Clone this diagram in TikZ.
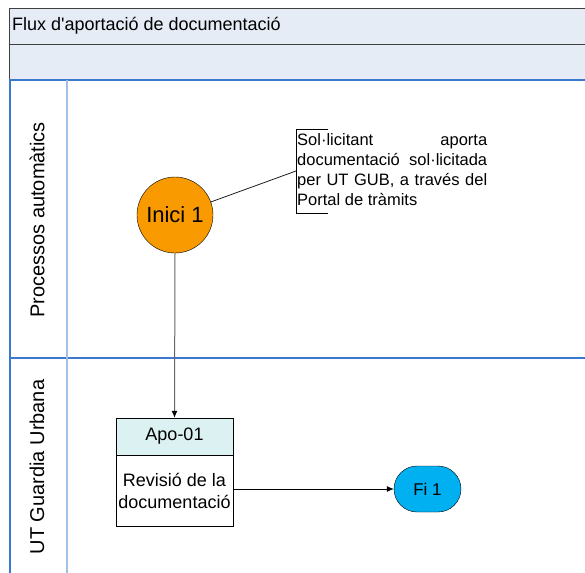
\documentclass[tikz,border=0pt]{standalone}
\usepackage{fontspec}
\setmainfont{Liberation Sans}
\usetikzlibrary{arrows.meta,shapes.misc}
\definecolor{hdrfill}{HTML}{E6ECF6}
\definecolor{laneblue}{HTML}{3C78D0}
\definecolor{lightblue}{HTML}{A0C0EA}
\definecolor{startor}{HTML}{F99B00}
\definecolor{endblue}{HTML}{00B0F0}
\definecolor{taskhead}{HTML}{DCF2F2}
\definecolor{framegray}{HTML}{404040}
\tikzset{
  lanelabel/.style={rotate=90,font=\fontsize{20}{24}\selectfont},
  startev/.style={circle,draw=black,fill=startor,minimum size=76pt,inner sep=0pt,font=\fontsize{22}{26}\selectfont},
  endev/.style={rounded rectangle,draw=black,fill=endblue,minimum width=67pt,minimum height=46pt,inner sep=0pt,font=\fontsize{17}{20}\selectfont},
  taskhd/.style={rectangle,draw=black,fill=taskhead,minimum width=117pt,minimum height=37pt,inner sep=0pt,font=\fontsize{18}{22}\selectfont},
  taskbd/.style={rectangle,draw=black,fill=white,minimum width=117pt,minimum height=71pt,inner sep=0pt,align=center,font=\fontsize{18}{22}\selectfont},
  flow/.style={-{Latex[length=7pt,width=6pt,black]},line width=0.8pt},
}
\begin{document}
\begin{tikzpicture}[x=1pt,y=-1pt]
\useasboundingbox (0,0) rectangle (585,572);
% header bands
\fill[hdrfill] (9,8) rectangle (590,80);
\draw[framegray,line width=0.8pt] (590,8) -- (9,8) -- (9,80);
\draw[framegray,line width=0.8pt] (9,44) -- (590,44);
\node[anchor=west,inner sep=0pt,font=\fontsize{18}{22}\selectfont] (title) at (12,26) {Flux d\textquotesingle aportació de documentació};
% lanes
\draw[laneblue,line width=1.2pt] (9,80) -- (590,80);
\draw[laneblue,line width=1.2pt] (9,358) -- (590,358);
\draw[laneblue,line width=2pt] (10,80) -- (10,580);
\draw[lightblue,line width=1.2pt] (67,80) -- (67,580);
\node[lanelabel] (lane1) at (37,220) {Processos automàtics};
\node[lanelabel] (lane2) at (37,467) {UT Guardia Urbana};
% nodes
\node[startev] (inici) at (175,215) {Inici 1};
\node[taskhd] (apohd) at (174.5,436.5) {Apo-01};
\node[taskbd] (apobd) at (174.5,490.5) {Revisió de la\\documentació};
\node[endev] (fi) at (427.5,489) {Fi 1};
% annotation
\coordinate (bt) at (328,129);
\coordinate (btl) at (296,129);
\coordinate (bbl) at (296,213);
\coordinate (bb) at (328,213);
\coordinate (bm) at (296,171);
\draw[line width=0.8pt] (bt) -- (btl) -- (bbl) -- (bb);
\node[anchor=north west,inner sep=0pt,align=left,font=\fontsize{16.5}{20}\selectfont] (note) at (297,133)
  {\makebox[190pt][s]{Sol·licitant aporta}\\
   \makebox[190pt][s]{documentació sol·licitada}\\
   \makebox[190pt][s]{per UT GUB, a través del}\\
   Portal de tràmits};
\draw[line width=0.7pt] (inici) -- (bm);
% connectors
\draw[flow,draw=gray!80!black,line width=1pt] (inici.south) -- (apohd.north);
\draw[flow] (apobd.east |- fi.west) -- (fi.west);
\end{tikzpicture}
\end{document}
